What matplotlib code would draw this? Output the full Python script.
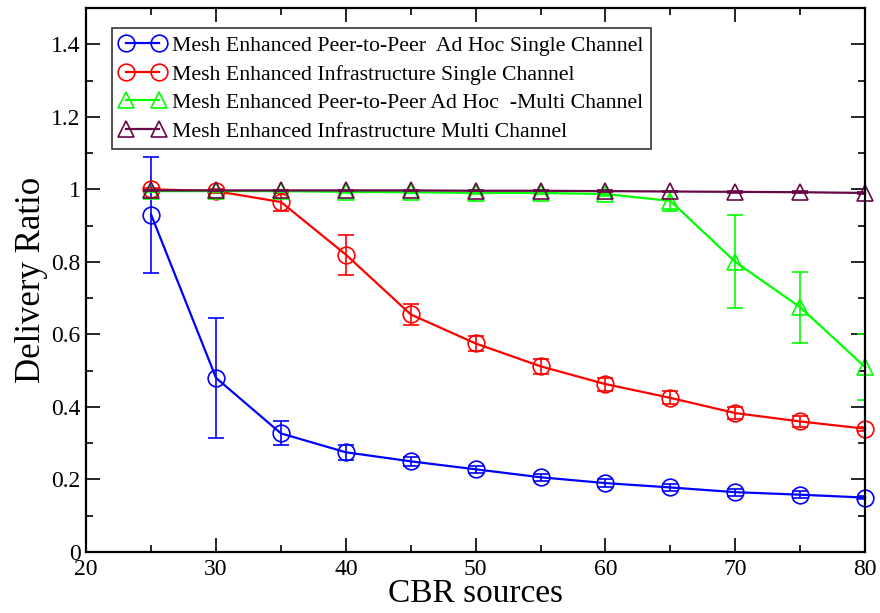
import matplotlib
matplotlib.use("Agg")
import matplotlib.pyplot as plt
from matplotlib.lines import Line2D
from matplotlib.ticker import MultipleLocator, FormatStrFormatter

plt.rcParams['font.family'] = ['Liberation Serif', 'DejaVu Serif']

cbr = [25, 30, 35, 40, 45, 50, 55, 60, 65, 70, 75, 80]

p2p_single = [0.93, 0.48, 0.327, 0.275, 0.25, 0.228, 0.206, 0.19, 0.178, 0.165, 0.158, 0.15]
p2p_single_err = [0.16, 0.165, 0.033, 0.02, 0.012, 0.01, 0.01, 0.01, 0.01, 0.01, 0.01, 0.005]

infra_single = [1.0, 0.995, 0.965, 0.82, 0.655, 0.575, 0.512, 0.463, 0.425, 0.383, 0.36, 0.34]
infra_single_err = [0.005, 0.005, 0.025, 0.055, 0.028, 0.02, 0.02, 0.018, 0.018, 0.017, 0.015, 0.005]

p2p_multi = [0.995, 0.995, 0.995, 0.993, 0.992, 0.99, 0.99, 0.987, 0.968, 0.80, 0.675, 0.51]
p2p_multi_err = [0.003, 0.003, 0.003, 0.003, 0.003, 0.003, 0.003, 0.005, 0.027, 0.128, 0.098, 0.09]

infra_multi = [0.997, 0.997, 0.997, 0.997, 0.997, 0.996, 0.996, 0.995, 0.994, 0.993, 0.992, 0.99]
infra_multi_err = [0.002] * 12

series = [
    ("Mesh Enhanced Peer-to-Peer  Ad Hoc Single Channel", p2p_single, p2p_single_err, "#0000ff", "o"),
    ("Mesh Enhanced Infrastructure Single Channel", infra_single, infra_single_err, "#ff0000", "o"),
    ("Mesh Enhanced Peer-to-Peer Ad Hoc  -Multi Channel", p2p_multi, p2p_multi_err, "#00ff00", "^"),
    ("Mesh Enhanced Infrastructure Multi Channel", infra_multi, infra_multi_err, "#670748", "^"),
]

fig = plt.figure(figsize=(8.8, 6.13), dpi=100)
ax = fig.add_axes([0.098, 0.0995, 0.885, 0.8875])

handles = []
for label, vals, errs, color, marker in series:
    # error bars stay inside the frame, the curve and symbols may run over it
    ax.errorbar(cbr, vals, yerr=errs, fmt="none", ecolor=color,
                elinewidth=1.2, capsize=6, capthick=1.2)
    ax.plot(cbr, vals, color=color, marker=marker, markersize=12,
            markerfacecolor="none", markeredgecolor=color, markeredgewidth=1.2,
            linewidth=1.6, clip_on=False)
    handles.append(Line2D([], [], color=color, marker=marker, markersize=12,
                          markerfacecolor="none", markeredgewidth=1.2,
                          linewidth=1.6, label=label))

ax.set_xlim(20, 80)
ax.set_ylim(0, 1.5)
ax.xaxis.set_major_locator(MultipleLocator(10))
ax.xaxis.set_minor_locator(MultipleLocator(5))
ax.yaxis.set_minor_locator(MultipleLocator(0.1))
ax.set_yticks([0, 0.2, 0.4, 0.6, 0.8, 1.0, 1.2, 1.4])
ax.yaxis.set_major_formatter(FormatStrFormatter('%g'))

ax.tick_params(which='both', direction='in', top=True, right=True, width=1.2)
ax.tick_params(which='major', length=10, labelsize=17)
ax.tick_params(axis='x', which='major', pad=5)
ax.tick_params(axis='y', which='major', pad=4)
ax.tick_params(which='minor', length=5)
for s in ax.spines.values():
    s.set_linewidth(1.6)

ax.set_xlabel("CBR sources", fontsize=24, labelpad=-1)
ax.set_ylabel("Delivery Ratio", fontsize=25, labelpad=2)

leg = ax.legend(handles=handles, loc='upper left', bbox_to_anchor=(0.033, 0.963),
                numpoints=2, fontsize=15.7, frameon=True, fancybox=False,
                edgecolor='black', handlelength=2.1, handletextpad=0.3,
                borderpad=0.35, labelspacing=0.38, borderaxespad=0)
leg.get_frame().set_linewidth(1.2)

fig.savefig("out.png", dpi=100)
